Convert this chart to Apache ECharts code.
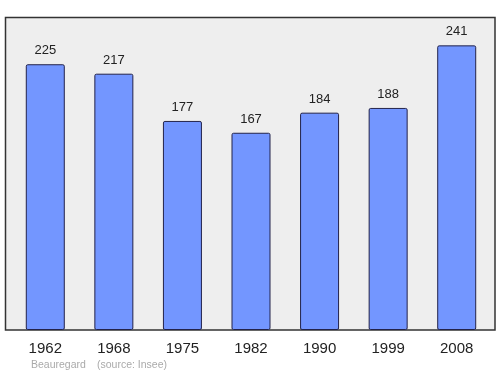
<!DOCTYPE html>
<html><head><meta charset="utf-8">
<script src="https://cdn.jsdelivr.net/npm/echarts@6/dist/echarts.min.js"></script>
<style>html,body{margin:0;padding:0;background:#fff}#c{width:500px;height:374px}</style>
</head><body><div id="c"></div>
<script>
var categories = ['1962','1968','1975','1982','1990','1999','2008'];
var population = [225, 217, 177, 167, 184, 188, 241];
var footerName = 'Beauregard';
var footerSource = '(source: Insee)';

var FONT = '"Liberation Sans", Arial, sans-serif';
var chart = echarts.init(document.getElementById('c'), null, {renderer:'canvas'});
chart.setOption({
  animation: false,
  backgroundColor: '#ffffff',
  graphic: [
    {type:'rect', z:-10, shape:{x:5.5, y:17.5, width:489.5, height:312.5}, style:{fill:'#eeeeee', stroke:'#333333', lineWidth:1.5}},
    {type:'text', left:31, top:360, style:{text:footerName, fill:'#aaaaaa', font:'10.5px ' + FONT}},
    {type:'text', left:97, top:360, style:{text:footerSource, fill:'#aaaaaa', font:'10.5px ' + FONT}}
  ],
  grid: {left:11, right:9, top:17, bottom:44},
  xAxis: {
    type:'category', data:categories,
    axisLine:{show:false}, axisTick:{show:false},
    axisLabel:{color:'#222', fontSize:15, fontFamily:FONT, margin:11}
  },
  yAxis: {type:'value', min:0, max:265, show:false, splitLine:{show:false}},
  series: [{
    type:'bar', data:population, barWidth:39,
    itemStyle:{color:'#7396ff', borderColor:'#22224a', borderWidth:1, borderRadius:1.5},
    label:{show:true, position:'top', distance:7, color:'#222', fontSize:13, fontFamily:FONT}
  }]
});
</script></body></html>
